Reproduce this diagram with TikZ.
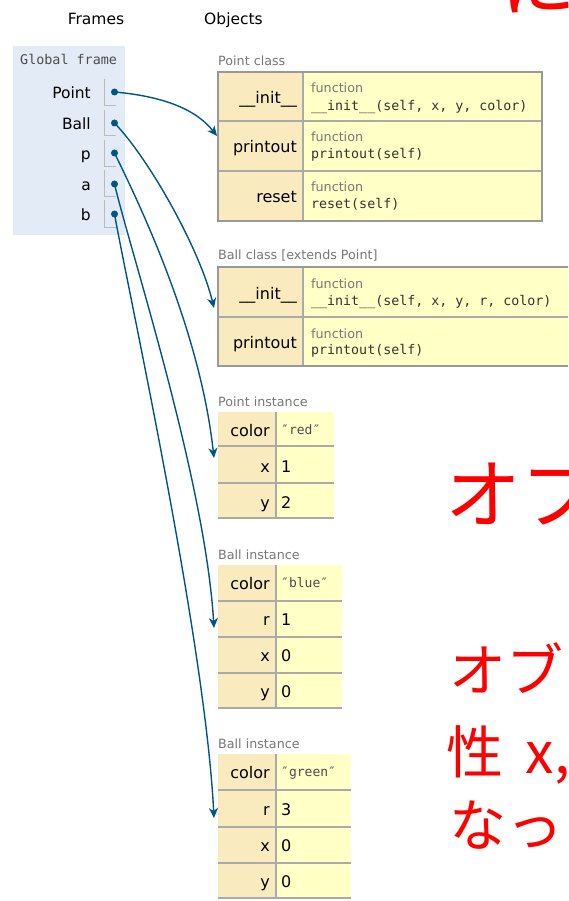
\documentclass[tikz,border=0pt]{standalone}
\usepackage{fontspec}
\setmainfont{DejaVu Sans}
\setmonofont{DejaVu Sans Mono}
\newfontfamily\cjkfont{Noto Sans CJK JP}
\usetikzlibrary{arrows.meta}
\definecolor{framebg}{HTML}{E2EBF6}
\definecolor{keybg}{HTML}{FAEBBF}
\definecolor{valbg}{HTML}{FFFFC6}
\definecolor{arrowc}{HTML}{005583}
\definecolor{bordc}{HTML}{AAAAAA}
\definecolor{vbordc}{HTML}{BBBBBB}
\definecolor{outerc}{HTML}{999999}
\definecolor{labc}{HTML}{777777}
\definecolor{slidered}{HTML}{FF0000}
\newcommand{\fs}[1]{\fontsize{#1}{#1}\selectfont}
\newcommand{\dq}{″}
\begin{document}
\begin{tikzpicture}[x=1pt,y=-1pt,
  hdr/.style={font=\fs{15.5}, anchor=base, inner sep=0pt},
  varname/.style={font=\fs{15.5}, anchor=base east, inner sep=0pt},
  varbox/.style={draw=vbordc, line width=1pt},
  dot/.style={circle, fill=arrowc, inner sep=0pt, minimum size=7pt},
  objlabel/.style={font=\fs{12.7}, text=labc, anchor=base west, inner sep=0pt},
  keytxt/.style={font=\fs{16}, anchor=base east, inner sep=0pt},
  fnlabel/.style={font=\fs{12.7}, text=labc, anchor=base west, inner sep=0pt},
  fnsig/.style={font=\ttfamily\fs{13.3}, text=black!80, anchor=base west, inner sep=0pt},
  valtxt/.style={font=\fs{16}, anchor=base west, inner sep=0pt},
  strtxt/.style={font=\ttfamily\fs{13}, text=black!70, anchor=base west, inner sep=0pt},
  rowline/.style={draw=bordc, line width=1.3pt},
  outer/.style={draw=outerc, line width=2pt},
  ptr/.style={draw=arrowc, line width=1.4pt, -{Stealth[length=10pt,width=9pt,inset=3pt]}},
  slide/.style={text=slidered, anchor=base west, inner sep=0pt},
]
\useasboundingbox (0,0) rectangle (568,901);
\clip (0,0) rectangle (568,901);
\fill[white] (0,0) rectangle (568,901);

% headers
\node[hdr] (hframes) at (96,25) {Frames};
\node[hdr] (hobjects) at (233.5,25) {Objects};

% global frame
\fill[framebg] (13,46) rectangle (125,235);
\node[font=\ttfamily\fs{13.4}, text=black!70, anchor=base west, inner sep=0pt] (gf) at (20,65) {Global frame};

\node[varname] (vPoint) at (91,99) {Point};
\node[varname] (vBall) at (91,129.5) {Ball};
\node[varname] (vp) at (91,160) {p};
\node[varname] (va) at (91,190.5) {a};
\node[varname] (vb) at (91,221) {b};
\draw[varbox] (104,79) -- (104,106) -- (116,106);
\draw[varbox] (104,110) -- (104,136) -- (116,136);
\draw[varbox] (104,140) -- (104,167) -- (116,167);
\draw[varbox] (104,170) -- (104,197) -- (116,197);
\draw[varbox] (104,200) -- (104,228) -- (116,228);

% Point class
\node[objlabel] (lPointClass) at (218,65.5) {Point class};
\fill[keybg] (218,72) rectangle (303,221);
\fill[valbg] (303,72) rectangle (542,221);
\draw[rowline] (218,121) -- (542,121) (218,171) -- (542,171) (303,72) -- (303,221);
\draw[outer] (218,72) rectangle (542,221);
\node[keytxt] (pcInit) at (297,104) {\_\_init\_\_};
\node[fnlabel] at (311,93) {function};
\node[fnsig] at (311,110.5) {\_\_init\_\_(self, x, y, color)};
\node[keytxt] (pcPrint) at (297,153) {printout};
\node[fnlabel] at (311,142) {function};
\node[fnsig] at (311,158.5) {printout(self)};
\node[keytxt] (pcReset) at (297,202.5) {reset};
\node[fnlabel] at (311,192) {function};
\node[fnsig] at (311,208.5) {reset(self)};

% Ball class
\node[objlabel] (lBallClass) at (218,259.5) {Ball class [extends Point]};
\fill[keybg] (218,267) rectangle (303,366);
\fill[valbg] (303,267) rectangle (600,366);
\draw[rowline] (218,317) -- (600,317) (303,267) -- (303,366);
\draw[outer] (218,267) rectangle (600,366);
\node[keytxt] (bcInit) at (297,299) {\_\_init\_\_};
\node[fnlabel] at (311,288) {function};
\node[fnsig] at (311,305.5) {\_\_init\_\_(self, x, y, r, color)};
\node[keytxt] (bcPrint) at (297,348.5) {printout};
\node[fnlabel] at (311,338) {function};
\node[fnsig] at (311,354.5) {printout(self)};

% Point instance
\node[objlabel] (lPI) at (218,406.5) {Point instance};
\fill[keybg] (218,412) rectangle (276,518);
\fill[valbg] (276,412) rectangle (334,518);
\draw[rowline] (218,446) -- (334,446) (218,483) -- (334,483) (218,518) -- (334,518) (276,412) -- (276,518);
\node[keytxt] at (270,436) {color};
\node[strtxt] at (281,434) {\dq red\dq};
\node[keytxt] at (270,472) {x};
\node[valtxt] at (281,472) {1};
\node[keytxt] at (270,508) {y};
\node[valtxt] at (281,508) {2};

% Ball instance 1
\node[objlabel] (lBI1) at (218,559.5) {Ball instance};
\fill[keybg] (218,565) rectangle (276,708);
\fill[valbg] (276,565) rectangle (342,708);
\draw[rowline] (218,601) -- (342,601) (218,637) -- (342,637) (218,673) -- (342,673) (218,708) -- (342,708) (276,565) -- (276,708);
\node[keytxt] at (270,589.5) {color};
\node[strtxt] at (281,587.5) {\dq blue\dq};
\node[keytxt] at (270,625.5) {r};
\node[valtxt] at (281,625.5) {1};
\node[keytxt] at (270,661.5) {x};
\node[valtxt] at (281,661.5) {0};
\node[keytxt] at (270,697.5) {y};
\node[valtxt] at (281,697.5) {0};

% Ball instance 2
\node[objlabel] (lBI2) at (218,748.5) {Ball instance};
\fill[keybg] (218,754) rectangle (276,898);
\fill[valbg] (276,754) rectangle (351,898);
\draw[rowline] (218,790) -- (351,790) (218,827) -- (351,827) (218,863) -- (351,863) (218,898) -- (351,898) (276,754) -- (276,898);
\node[keytxt] at (270,778.5) {color};
\node[strtxt] at (281,776.5) {\dq green\dq};
\node[keytxt] at (270,815) {r};
\node[valtxt] at (281,815) {3};
\node[keytxt] at (270,851) {x};
\node[valtxt] at (281,851) {0};
\node[keytxt] at (270,887) {y};
\node[valtxt] at (281,887) {0};

% targets
\coordinate (tPoint) at (217,136);
\coordinate (tBall) at (214,308);
\coordinate (tp) at (214,458);
\coordinate (ta) at (214,628);
\coordinate (tb) at (214,818);

% pointers
\node[dot] (dPoint) at (114.5,92) {};
\node[dot] (dBall) at (114.5,123) {};
\node[dot] (dp) at (114.5,153) {};
\node[dot] (da) at (114.5,184) {};
\node[dot] (db) at (114.5,214) {};
\draw[ptr] (dPoint.center) .. controls (160,96) and (195,108) .. (tPoint);
\draw[ptr] (dBall.center) .. controls (150,160) and (200,250) .. (tBall);
\draw[ptr] (dp.center) .. controls (140,205) and (200,330) .. (tp);
\draw[ptr] (da.center) .. controls (130,250) and (205,480) .. (ta);
\draw[ptr] (db.center) .. controls (128,290) and (205,640) .. (tb);

% red slide text (cut off at the right, as in the reference)
\node[slide, font=\cjkfont\fs{76}] (r0) at (500,11) {に};
\node[slide, font=\cjkfont\fs{76}] (r1) at (445,522.5) {オブ};
\node[slide, font=\cjkfont\fs{57}] (r2) at (449,691.5) {オブ};
\node[slide, font=\cjkfont\fs{57}] (r3) at (446,773) {性\hspace{10pt} x,};
\node[slide, font=\cjkfont\fs{57}] (r4) at (449,846.5) {なっ};
\end{tikzpicture}
\end{document}
